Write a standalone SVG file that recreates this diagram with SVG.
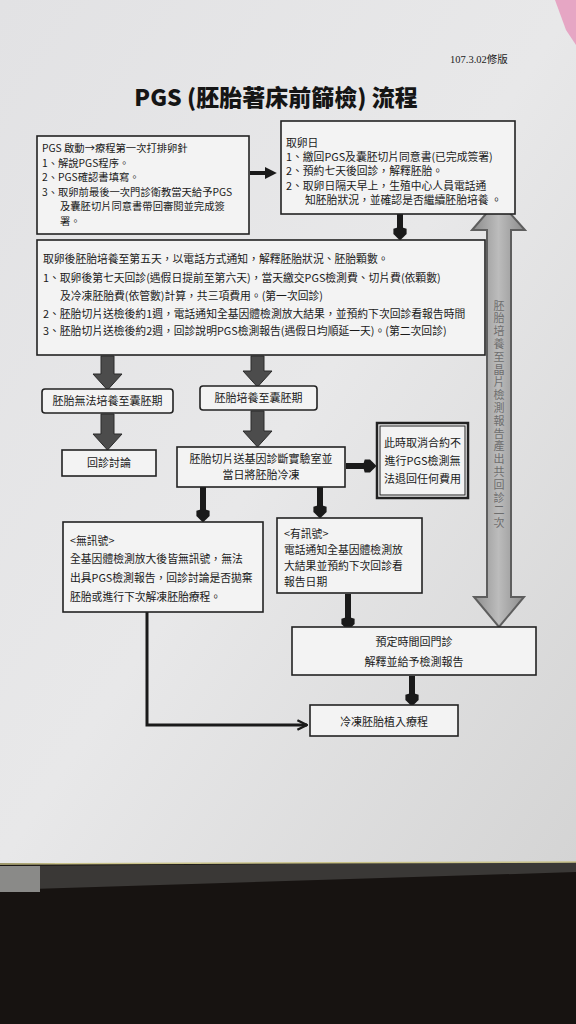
<svg xmlns="http://www.w3.org/2000/svg" width="576" height="1024" viewBox="0 0 576 1024">
<defs>
<linearGradient id="paper" x1="0" y1="0" x2="1" y2="1">
<stop offset="0" stop-color="#e2e2e4"/>
<stop offset="0.5" stop-color="#e8e8e9"/>
<stop offset="1" stop-color="#d4d4d4"/>
</linearGradient>
<linearGradient id="shaft" x1="0" y1="0" x2="1" y2="0">
<stop offset="0" stop-color="#8a8a8a"/>
<stop offset="0.5" stop-color="#bcbcbc"/>
<stop offset="1" stop-color="#8a8a8a"/>
</linearGradient>
<marker id="tri" viewBox="0 0 10 10" refX="6" refY="5" markerWidth="3" markerHeight="3" orient="auto" markerUnits="strokeWidth">
<path d="M0,0 L10,5 L0,10 z" fill="#1a1a1a"/>
</marker>
<marker id="chev" viewBox="0 0 10 10" refX="9" refY="5" markerWidth="4" markerHeight="4" orient="auto" markerUnits="strokeWidth">
<path d="M1,1 L9,5 L1,9" fill="none" stroke="#1a1a1a" stroke-width="2"/>
</marker>
<marker id="bulb" viewBox="0 0 10 10" refX="5" refY="5" markerWidth="2.2" markerHeight="2.2" orient="auto" markerUnits="strokeWidth">
<path d="M0,1 Q5,-1 10,1 L10,5 L5,10 L0,5 z" fill="#1a1a1a" transform="rotate(-90 5 5)"/>
</marker>
</defs>
<style>
.box{fill:#f3f3f3;stroke:#222;stroke-width:1.6}
.t{font-family:"Noto Sans CJK TC","Noto Sans CJK SC",sans-serif;font-size:10.8px;fill:#1a1a1a}
.ts{font-family:"Noto Sans CJK TC","Noto Sans CJK SC",sans-serif;font-size:10.3px;fill:#1a1a1a}
.tc{font-family:"Noto Sans CJK TC","Noto Sans CJK SC",sans-serif;font-size:11px;fill:#1a1a1a;text-anchor:middle}
.blk{stroke:#1a1a1a;stroke-width:6;fill:none}
.gray{fill:#4c4c4c;stroke:#2a2a2a;stroke-width:1}
</style>

<!-- background -->
<rect x="0" y="0" width="576" height="1024" fill="#171311"/>
<rect x="0" y="0" width="576" height="863" fill="url(#paper)"/>
<polygon points="555,0 576,0 576,45 566,30" fill="#e6a6c4"/>
<polygon points="0,866 576,862 576,872 0,890" fill="#3a3836"/>
<polygon points="0,866 40,866 40,892 0,892" fill="#8a8a88"/>
<line x1="0" y1="864" x2="576" y2="862" stroke="#c9c28a" stroke-width="1.5"/>

<!-- title -->
<text x="276" y="106" text-anchor="middle" font-family="'Noto Sans CJK TC','Noto Sans CJK SC',sans-serif" font-weight="900" font-size="23" fill="#151515">PGS (胚胎著床前篩檢) 流程</text>
<text x="450" y="63" font-family="'Liberation Serif','Noto Sans CJK TC',serif" font-size="10.5" fill="#222">107.3.02修版</text>

<!-- connectors -->
<g id="connectors">
<line x1="250" y1="173" x2="272" y2="173" stroke="#1a1a1a" stroke-width="4" marker-end="url(#tri)"/>
<line x1="400" y1="214" x2="400" y2="234" class="blk" marker-end="url(#bulb)"/>
<polygon class="gray" points="101,356 114,356 114,374 122,374 107.5,390 93,374 101,374"/>
<polygon class="gray" points="251,356 264,356 264,371 272,371 257.5,387 243,371 251,371"/>
<polygon class="gray" points="101,414 114,414 114,434 122,434 107.5,450 93,434 101,434"/>
<polygon class="gray" points="251,411 264,411 264,431 272,431 257.5,447 243,431 251,431"/>
<line x1="346" y1="466" x2="370" y2="466" class="blk" marker-end="url(#bulb)"/>
<line x1="203" y1="487" x2="203" y2="516" class="blk" marker-end="url(#bulb)"/>
<line x1="320" y1="487" x2="320" y2="512" class="blk" marker-end="url(#bulb)"/>
<line x1="348" y1="594" x2="348" y2="624" class="blk" marker-end="url(#bulb)"/>
<line x1="412" y1="676" x2="412" y2="700" class="blk" marker-end="url(#bulb)"/>
<polyline points="147,612 147,725 307,725" fill="none" stroke="#1a1a1a" stroke-width="3" marker-end="url(#chev)"/>
<polygon points="498,200 525,230 511,230 511,597 524,597 499,627 474,597 487,597 487,230 472,230" fill="url(#shaft)" stroke="#5e5e5e" stroke-width="2"/>
<text x="499" y="300" writing-mode="vertical-rl" font-family="'Noto Sans CJK TC','Noto Sans CJK SC',sans-serif" font-size="11" letter-spacing="1.8" fill="#6e6e6e">胚胎培養至晶片檢測報告產出共回診二次</text>
</g>

<!-- nodes -->
<g id="n1">
<rect class="box" x="37" y="136" width="212" height="98"/>
<text class="ts" x="42" y="152">PGS 啟動→療程第一次打排卵針</text>
<text class="ts" x="42" y="166.5">1、解說PGS程序。</text>
<text class="ts" x="42" y="181">2、PGS確認書填寫。</text>
<text class="ts" x="42" y="195.5">3、取卵前最後一次門診衛教當天給予PGS</text>
<text class="ts" x="60" y="210">及囊胚切片同意書帶回審閱並完成簽</text>
<text class="ts" x="60" y="224.5">署。</text>
</g>
<g id="n2">
<rect class="box" x="281" y="121" width="234" height="93"/>
<text class="t" x="286" y="147">取卵日</text>
<text class="t" x="286" y="161">1、繳回PGS及囊胚切片同意書(已完成簽署)</text>
<text class="t" x="286" y="175">2、預約七天後回診，解釋胚胎。</text>
<text class="t" x="286" y="190">2、取卵日隔天早上，生殖中心人員電話通</text>
<text class="t" x="305" y="204">知胚胎狀況，並確認是否繼續胚胎培養 。</text>
</g>
<g id="n3">
<rect class="box" x="37" y="240" width="448" height="115"/>
<text class="t" x="43" y="263">取卵後胚胎培養至第五天，以電話方式通知，解釋胚胎狀況、胚胎顆數。</text>
<text class="t" x="43" y="282">1、取卵後第七天回診(遇假日提前至第六天)，當天繳交PGS檢測費、切片費(依顆數)</text>
<text class="t" x="60" y="300">及冷凍胚胎費(依管數)計算，共三項費用。(第一次回診)</text>
<text class="t" x="43" y="318">2、胚胎切片送檢後約1週，電話通知全基因體檢測放大結果，並預約下次回診看報告時間</text>
<text class="t" x="43" y="335">3、胚胎切片送檢後約2週，回診說明PGS檢測報告(遇假日均順延一天)。(第二次回診)</text>
</g>
<g id="n4">
<rect class="box" x="42" y="389" width="131" height="24" rx="3"/>
<text class="tc" x="107.5" y="405">胚胎無法培養至囊胚期</text>
</g>
<g id="n5">
<rect class="box" x="200" y="386" width="117" height="24" rx="3"/>
<text class="tc" x="258.5" y="402">胚胎培養至囊胚期</text>
</g>
<g id="n6">
<rect class="box" x="62" y="450" width="94" height="26"/>
<text class="tc" x="109" y="467">回診討論</text>
</g>
<g id="n7">
<rect class="box" x="177" y="447" width="168" height="40"/>
<text class="tc" x="261" y="463">胚胎切片送基因診斷實驗室並</text>
<text class="tc" x="261" y="479">當日將胚胎冷凍</text>
</g>
<g id="n8">
<rect x="377" y="423" width="91" height="75" fill="#f3f3f3" stroke="#222" stroke-width="2.5"/>
<rect x="380" y="426" width="85" height="69" fill="none" stroke="#222" stroke-width="1"/>
<text class="tc" x="422.5" y="447">此時取消合約不</text>
<text class="tc" x="422.5" y="465">進行PGS檢測無</text>
<text class="tc" x="422.5" y="483">法退回任何費用</text>
</g>
<g id="n9">
<rect class="box" x="63" y="522" width="200" height="90"/>
<text class="t" x="70" y="545">&lt;無訊號&gt;</text>
<text class="t" x="70" y="563">全基因體檢測放大後皆無訊號，無法</text>
<text class="t" x="70" y="582">出具PGS檢測報告，回診討論是否拋棄</text>
<text class="t" x="70" y="601">胚胎或進行下次解凍胚胎療程。</text>
</g>
<g id="n10">
<rect class="box" x="277" y="518" width="145" height="75"/>
<text class="t" x="284" y="538">&lt;有訊號&gt;</text>
<text class="t" x="284" y="554">電話通知全基因體檢測放</text>
<text class="t" x="284" y="570">大結果並預約下次回診看</text>
<text class="t" x="284" y="586">報告日期</text>
</g>
<g id="n11">
<rect class="box" x="292" y="627" width="244" height="48"/>
<text class="tc" x="414" y="646" font-size="12.5">預定時間回門診</text>
<text class="tc" x="414" y="666" font-size="12.5">解釋並給予檢測報告</text>
</g>
<g id="n12">
<rect class="box" x="310" y="705" width="148" height="31"/>
<text class="tc" x="384" y="726" font-size="14">冷凍胚胎植入療程</text>
</g>
</svg>
